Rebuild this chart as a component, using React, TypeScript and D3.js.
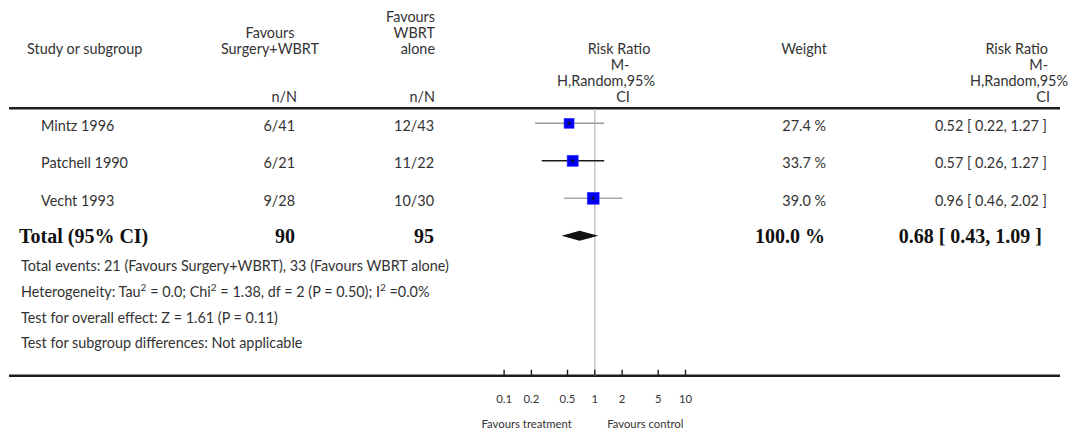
import React from "react";
import * as d3 from "d3";

// Trials in the meta-analysis
const studies = ["Mintz 1996", "Patchell 1990", "Vecht 1993"];
const surgeryEvents = [6, 6, 9];
const surgeryTotals = [41, 21, 28];
const wbrtEvents = [12, 11, 10];
const wbrtTotals = [43, 22, 30];
const weights = [27.4, 33.7, 39.0];
const riskRatios = [0.52, 0.57, 0.96];
const ciLower = [0.22, 0.26, 0.46];
const ciUpper = [1.27, 1.27, 2.02];

// Pooled (random effects) estimate
const pooledRR = 0.68;
const pooledLower = 0.43;
const pooledUpper = 1.09;
const pooledWeight = 100.0;

// Axis
const axisTicks = [0.1, 0.2, 0.5, 1, 2, 5, 10];

const heterogeneityText = "Heterogeneity: Tau\u00B2 = 0.0; Chi\u00B2 = 1.38, df = 2 (P = 0.50); I\u00B2 =0.0%";
const overallEffectText = "Test for overall effect: Z = 1.61 (P = 0.11)";
const subgroupText = "Test for subgroup differences: Not applicable";

// Line colours of the confidence intervals, per trial
const ciColors = ["#9a9a9a", "#1a1a1a", "#a8a8a8"];

const SANS = "Lato, 'Open Sans', sans-serif";
const SERIF = "'Liberation Serif', 'DejaVu Serif', serif";
const TXT = "#333";
const FS = 14.4;

// Renders "²" as a raised, smaller 2
function withSuperscripts(t: string) {
  const parts = t.split("\u00B2");
  const out: React.ReactNode[] = [];
  parts.forEach((p, i) => {
    out.push(<tspan key={`p${i}`}>{p}</tspan>);
    if (i < parts.length - 1) {
      out.push(
        <tspan key={`s${i}`} fontSize={FS * 0.7} baselineShift="super">
          2
        </tspan>
      );
    }
  });
  return out;
}

export default function App() {
  const width = 1074;
  const height = 433;

  const x = d3.scaleLog().domain([0.1, 10]).range([504.1, 685.5]);
  const rowY = (i: number) => 123.3 + i * 37.5;
  const totalY = rowY(studies.length);
  const sq = d3.scaleSqrt().domain([0, 100]).range([0, 19.1]);

  const fmt = (v: number) => v.toFixed(2);
  const totalSurg = d3.sum(surgeryTotals);
  const totalWbrt = d3.sum(wbrtTotals);
  const evSurg = d3.sum(surgeryEvents);
  const evWbrt = d3.sum(wbrtEvents);

  const footer = [
    `Total events: ${evSurg} (Favours Surgery+WBRT), ${evWbrt} (Favours WBRT alone)`,
    heterogeneityText,
    overallEffectText,
    subgroupText,
  ];

  const topLine = 108.3;
  const axisY = 375.7;
  const hdr = (c: number) => c + 5;

  const diamond = [
    [x(pooledLower), totalY],
    [x(pooledRR), totalY - 5],
    [x(pooledUpper), totalY],
    [x(pooledRR), totalY + 5],
  ];

  return (
    <svg
      width={width}
      height={height}
      style={{ position: "absolute", left: 0, top: 0, background: "#fff" }}
      fontFamily={SANS}
    >
      <rect width={width} height={height} fill="#fff" />

      {/* column headers */}
      <g fontSize={FS} fill={TXT}>
        <text x={27} y={hdr(49)}>Study or subgroup</text>
        <text x={270} y={hdr(33)} textAnchor="middle">Favours</text>
        <text x={270} y={hdr(49)} textAnchor="middle">Surgery+WBRT</text>
        <text x={297} y={hdr(97)} textAnchor="end">n/N</text>
        <text x={435} y={hdr(17)} textAnchor="end">Favours</text>
        <text x={435} y={hdr(33)} textAnchor="end">WBRT</text>
        <text x={435} y={hdr(49)} textAnchor="end">alone</text>
        <text x={435} y={hdr(97)} textAnchor="end">n/N</text>
        <text x={619} y={hdr(49)} textAnchor="middle">Risk Ratio</text>
        <text x={620} y={hdr(65)} textAnchor="middle">M-</text>
        <text x={606} y={hdr(81)} textAnchor="middle">H,Random,95%</text>
        <text x={623} y={hdr(97)} textAnchor="middle">CI</text>
        <text x={804} y={hdr(49)} textAnchor="middle">Weight</text>
        <text x={1048} y={hdr(49)} textAnchor="end">Risk Ratio</text>
        <text x={1048} y={hdr(65)} textAnchor="end">M-</text>
        <text x={1068} y={hdr(81)} textAnchor="end">H,Random,95%</text>
        <text x={1050} y={hdr(97)} textAnchor="end">CI</text>
      </g>

      {/* rules */}
      <line x1={9} x2={1060} y1={topLine} y2={topLine} stroke="#1e1e1e" strokeWidth={2.4} />
      <line x1={9} x2={1060} y1={axisY} y2={axisY} stroke="#1e1e1e" strokeWidth={2.4} />

      {/* line of no effect */}
      <line x1={x(1)} x2={x(1)} y1={topLine + 1} y2={axisY} stroke="#c9c9c9" strokeWidth={1.6} />

      {/* study rows */}
      {studies.map((name, i) => {
        const y = rowY(i);
        const s = sq(weights[i]);
        const cx = x(riskRatios[i]);
        return (
          <g key={name}>
            <g fontSize={FS} fill={TXT}>
              <text x={41} y={y + 7.5}>{name}</text>
              <text x={295} y={y + 7.5} textAnchor="end">{`${surgeryEvents[i]}/${surgeryTotals[i]}`}</text>
              <text x={434} y={y + 7.5} textAnchor="end">{`${wbrtEvents[i]}/${wbrtTotals[i]}`}</text>
              <text x={826} y={y + 7.5} textAnchor="end">{`${weights[i].toFixed(1)} %`}</text>
              <text x={1047} y={y + 7.5} textAnchor="end">
                {`${fmt(riskRatios[i])} [ ${fmt(ciLower[i])}, ${fmt(ciUpper[i])} ]`}
              </text>
            </g>
            <line x1={x(ciLower[i])} x2={x(ciUpper[i])} y1={y} y2={y} stroke={ciColors[i]} strokeWidth={1.5} />
            <rect x={cx - s / 2} y={y - s / 2} width={s} height={s} fill="#0000f5" stroke="#3a3aff" strokeWidth={0.6} />
            <line x1={cx - 2} x2={cx + 2} y1={y} y2={y} stroke="#111" strokeWidth={1} />
            <line x1={cx} x2={cx} y1={y - 2} y2={y + 2} stroke="#111" strokeWidth={1} />
          </g>
        );
      })}

      {/* pooled row */}
      <g fontFamily={SERIF} fontWeight="bold" fontSize={20} fill="#111">
        <text x={19} y={totalY + 7}>Total (95% CI)</text>
        <text x={295} y={totalY + 7} textAnchor="end">{totalSurg}</text>
        <text x={434} y={totalY + 7} textAnchor="end">{totalWbrt}</text>
        <text x={825} y={totalY + 7} textAnchor="end">{`${pooledWeight.toFixed(1)} %`}</text>
        <text x={1042} y={totalY + 7} textAnchor="end">
          {`${fmt(pooledRR)} [ ${fmt(pooledLower)}, ${fmt(pooledUpper)} ]`}
        </text>
      </g>
      <path d={`M${diamond.map((p) => p.join(",")).join("L")}Z`} fill="#111" />

      {/* summary statistics */}
      <g fontSize={FS} fill={TXT}>
        {footer.map((t, i) => (
          <text key={i} x={21} y={266 + i * 25.8 + 5}>{withSuperscripts(t)}</text>
        ))}
      </g>

      {/* axis */}
      {axisTicks.map((t) => (
        <g key={t}>
          <line x1={x(t)} x2={x(t)} y1={axisY - 6} y2={axisY} stroke="#1e1e1e" strokeWidth={1.4} />
          <text x={x(t)} y={403} textAnchor="middle" fontSize={11.3} fill={TXT}>{String(t)}</text>
        </g>
      ))}
      <text x={526.7} y={428} textAnchor="middle" fontSize={11.3} fill={TXT}>Favours treatment</text>
      <text x={645.3} y={428} textAnchor="middle" fontSize={11.3} fill={TXT}>Favours control</text>
    </svg>
  );
}
